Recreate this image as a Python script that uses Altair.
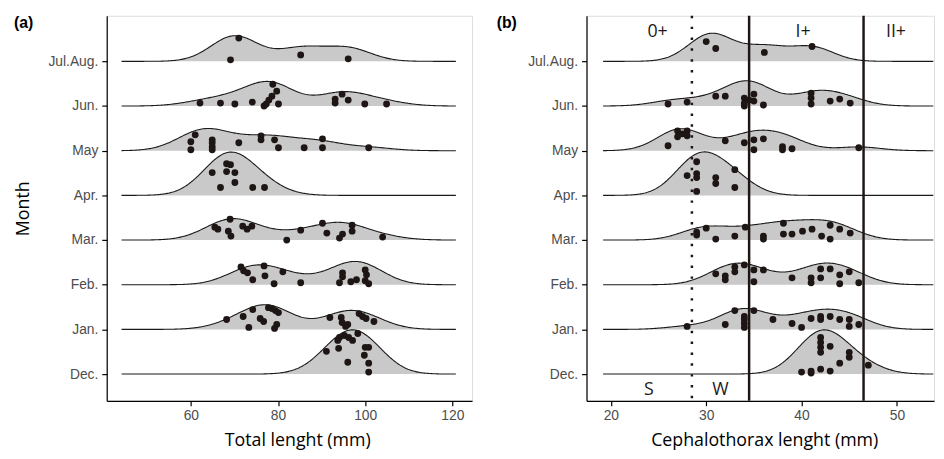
import json
import altair as alt
import pandas as pd

# Month rows, bottom to top
MONTHS = ["Dec.", "Jan.", "Feb.", "Mar.", "Apr.", "May", "Jun.", "Jul.Aug."]

# ---- Panel (a): total length (mm), (value, vertical jitter in px) ----
TL_DEC = [(93.7, 34), (94.1, 37), (95.2, 39), (96.2, 37), (97.1, 34), (98.3, 41), (91.1, 23),
          (93.9, 26), (96.0, 12), (100.0, 27), (100.8, 27), (99.8, 19), (100.8, 11), (100.8, 2)]
TL_JAN = [(68.2, 10), (72.0, 13), (73.3, 2), (74.2, 20), (75.9, 11), (76.7, 8), (77.8, 22),
          (78.6, 21), (79.4, 19), (80.1, 17), (79.7, 5), (79.2, 1), (91.9, 12), (94.5, 12),
          (94.7, 7), (95.5, 3), (96.0, 5), (98.6, 16), (99.4, 13), (100.2, 11), (102.0, 8)]
TL_FEB = [(71.5, 18), (72.1, 14), (73.0, 12), (74.2, 5), (76.8, 19), (77.0, 9), (79.1, 1),
          (81.1, 13), (85.2, 2), (94.1, 2), (94.8, 12), (94.8, 8), (96.7, 3), (98.0, 5),
          (100.0, 15), (100.3, 10), (100.0, 4), (100.8, 1)]
TL_MAR = [(65.5, 13), (66.2, 11), (69.0, 21), (68.6, 9), (69.2, 4), (71.9, 14), (72.9, 11),
          (74.0, 14), (82.0, 0), (85.2, 10), (90.2, 17), (91.2, 7), (94.1, 2), (94.8, 6),
          (97.0, 15), (97.0, 9), (104.0, 3)]
TL_APR = [(68.2, 32), (69.1, 31), (64.9, 23), (68.2, 24), (70.1, 23), (70.1, 13), (66.8, 8),
          (74.2, 8), (76.9, 8)]
TL_MAY = [(61.0, 16), (60.0, 9), (60.0, 1), (64.9, 11), (64.9, 8), (64.9, 4), (64.9, 1),
          (71.0, 8), (76.1, 15), (76.1, 11), (79.2, 11), (80.1, 3), (86.0, 3), (90.2, 12),
          (90.2, 3), (100.8, 3)]
TL_JUN = [(62.1, 3), (66.8, 3), (70.1, 2), (74.1, 4), (76.8, 0), (77.3, 2), (77.9, 6),
          (78.6, 10), (79.7, 15), (78.8, 22), (80.1, 2), (93.1, 3), (93.1, 7), (94.7, 12),
          (96.1, 6), (99.9, 2), (104.9, 2)]
TL_JULAUG = [(69.1, 1.5), (71.0, 23.5), (85.2, 6.5), (96.1, 2.5)]

# ---- Panel (b): cephalothorax length (mm) ----
CL_DEC = [(42.0, 37), (42.0, 32), (42.0, 27), (42.0, 22), (43.0, 28), (45.0, 22), (45.0, 17),
          (44.0, 11), (47.0, 9), (40.0, 2), (41.0, 1), (41.0, 3), (42.0, 5), (43.0, 3)]
CL_JAN = [(28.0, 3), (32.0, 5), (33.0, 19), (34.0, 10), (34.0, 6), (34.0, 2), (34.0, 13),
          (35.0, 19), (37.0, 10), (39.0, 6), (40.0, 2), (41.0, 11), (42.0, 10), (42.0, 13),
          (43.0, 13), (44.0, 10), (45.0, 10), (45.0, 3), (46.0, 5)]
CL_FEB = [(31.0, 11), (32.0, 9), (32.0, 5), (33.0, 18), (33.0, 13), (34.0, 20), (35.0, 15),
          (35.0, 3), (36.0, 15), (39.0, 7), (41.0, 7), (41.0, 2), (42.0, 16), (42.0, 7),
          (43.0, 16), (44.0, 10), (44.0, 1), (45.0, 13), (46.0, 2)]
CL_MAR = [(29.0, 8), (29.0, 5), (30.0, 12), (31.0, 1), (33.0, 4), (34.1, 13), (36.0, 4),
          (36.0, 1), (38.1, 17), (38.1, 6), (39.0, 6), (40.1, 9), (41.1, 11), (42.1, 4),
          (43.0, 15), (43.0, 1), (44.0, 11), (45.1, 7)]
CL_APR = [(29.0, 34), (28.0, 20), (29.0, 22), (29.0, 18), (31.0, 18), (31.0, 12), (33.0, 26),
          (33.0, 8), (29.0, 4)]
CL_MAY = [(26.0, 5), (27.0, 20), (27.0, 14), (27.5, 17), (28.0, 20), (28.0, 15), (32.0, 10),
          (34.0, 8), (35.0, 11), (35.0, 1), (36.0, 12), (38.0, 4), (38.0, 1), (39.0, 2), (46.0, 3)]
CL_JUN = [(26.0, 2), (28.0, 4), (31.0, 10), (32.0, 10), (34.0, 8), (34.0, 3), (34.0, 0),
          (34.5, 6), (35.0, 12), (35.0, 5), (36.0, 1), (41.0, 13), (41.0, 8), (41.0, 2),
          (43.0, 5), (44.0, 7), (45.1, 3)]
CL_JULAUG = [(30.0, 20), (31.0, 13), (36.1, 9), (41.1, 15)]

# Class limits in panel (b)
DOTTED_LIMIT = [28.5]
SOLID_LIMITS = [34.5, 46.5]
AGE_LABELS = ["0+", "I+", "II+", "S", "W"]
AGE_X = [24.9, 40.15, 49.9, 24.0, 31.5]
AGE_Y = [7.66, 7.66, 7.66, -0.355, -0.355]

TL_TICKS = [60, 80, 100, 120]
CL_TICKS = [20, 30, 40, 50]

ROW_PX = 45.14
PLOT_H = 390
Y_DOMAIN = [-0.598, 8.02]
DARK = "#1e1614"
FILL = "#c9c9c9"
LABEL_EXPR = json.dumps(MONTHS) + "[datum.value]"


def build(groups):
    rows = []
    for idx, (m, pts) in enumerate(zip(MONTHS, groups)):
        for v, j in pts:
            rows.append({"month": m, "idx": idx, "x": v, "jit": j / ROW_PX})
    return pd.DataFrame(rows)


def panel(df, bw, xdom, ticks, xtitle, width, titlex, tag, tagx, ytitle, extra=None):
    lo = float(df["x"].min()) - 3 * bw
    hi = float(df["x"].max()) + 3 * bw
    xscale = alt.Scale(domain=xdom, nice=False, zero=False)
    yscale = alt.Scale(domain=Y_DOMAIN, nice=False, zero=False)
    xaxis = alt.Axis(values=ticks, title=xtitle, grid=False, domainColor="black",
                     domainWidth=1.2, tickColor="black", tickSize=5, tickWidth=1.2,
                     labelFont="Liberation Sans", labelFontSize=14, labelColor="#4d4d4d",
                     labelPadding=3, titleFont="Open Sans", titleFontSize=18,
                     titleFontWeight="normal", titleColor="black", titlePadding=9,
                     titleX=titlex)
    yargs = dict(values=list(range(len(MONTHS))), labelExpr=LABEL_EXPR, grid=False,
                 domainColor="black", domainWidth=1.2, tickColor="black", tickSize=5,
                 tickWidth=1.2, labelFont="Liberation Sans", labelFontSize=14,
                 labelColor="#4d4d4d", labelPadding=4)
    if ytitle:
        yaxis = alt.Axis(title=ytitle, titleFont="Open Sans", titleFontSize=18,
                         titleFontWeight="normal", titleColor="black", titlePadding=16,
                         **yargs)
    else:
        yaxis = alt.Axis(title=None, **yargs)

    base = alt.Chart(df)
    dens = (base.transform_density("x", as_=["x", "density"], bandwidth=bw,
                                   extent=[lo, hi], groupby=["month", "idx"], steps=300)
            .transform_joinaggregate(maxd="max(density)")
            .transform_calculate(top="datum.idx + 0.99 * datum.density / datum.maxd"))
    area = dens.mark_area(color=FILL, opacity=1).encode(
        x=alt.X("x:Q", scale=xscale, axis=xaxis),
        y=alt.Y("top:Q", scale=yscale, axis=yaxis),
        y2=alt.Y2("idx:Q"),
        detail="month:N")
    line = dens.mark_line(color="#1a1a1a", strokeWidth=1.1).encode(
        x=alt.X("x:Q", scale=xscale),
        y=alt.Y("top:Q", scale=yscale),
        detail="month:N")
    pts = base.transform_calculate(py="datum.idx + datum.jit").mark_circle(
        size=48, color=DARK, opacity=1).encode(
        x=alt.X("x:Q", scale=xscale),
        y=alt.Y("py:Q", scale=yscale))
    tagc = alt.Chart(pd.DataFrame({"t": [tag]})).mark_text(
        font="Liberation Sans", fontSize=16, fontWeight="bold", color="black",
        align="left", baseline="middle").encode(
        x=alt.value(tagx), y=alt.value(7), text="t:N")
    layers = [area, line]
    if extra:
        layers += extra(xscale, yscale)
    layers += [pts, tagc]
    return alt.layer(*layers).properties(width=width, height=PLOT_H)


def extra_b(xscale, yscale):
    dotted = alt.Chart(pd.DataFrame({"v": DOTTED_LIMIT})).mark_rule(
        color=DARK, strokeWidth=2.5, strokeDash=[2.5, 8.5]).encode(
        x=alt.X("v:Q", scale=xscale))
    solid = alt.Chart(pd.DataFrame({"v": SOLID_LIMITS})).mark_rule(
        color=DARK, strokeWidth=2.5).encode(x=alt.X("v:Q", scale=xscale))
    txt = alt.Chart(pd.DataFrame({"lab": AGE_LABELS, "x": AGE_X, "y": AGE_Y})).mark_text(
        font="Open Sans", fontSize=18, color="#1e1a1a", baseline="middle").encode(
        x=alt.X("x:Q", scale=xscale), y=alt.Y("y:Q", scale=yscale), text="lab:N")
    return [dotted, solid, txt]


df_a = build([TL_DEC, TL_JAN, TL_FEB, TL_MAR, TL_APR, TL_MAY, TL_JUN, TL_JULAUG])
df_b = build([CL_DEC, CL_JAN, CL_FEB, CL_MAR, CL_APR, CL_MAY, CL_JUN, CL_JULAUG])

pa = panel(df_a, 5.3, [40.7, 124.5], TL_TICKS, "Total lenght (mm)", 370, 193,
           "(a)", -94, "Month")
pb = panel(df_b, 2.27, [17.45, 53.89], CL_TICKS, "Cephalothorax lenght (mm)", 352, 180,
           "(b)", -91, None, extra=extra_b)

chart = alt.hconcat(pa, pb, spacing=23).properties(
    padding={"left": 5, "top": 3, "right": 0, "bottom": 0}
).configure_view(strokeWidth=0).configure(background="white")

chart.save("out.html", embed_options={"renderer": "svg", "actions": False})
